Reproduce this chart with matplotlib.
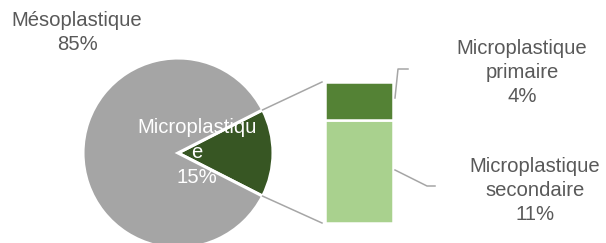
import matplotlib
matplotlib.use("Agg")
import matplotlib.pyplot as plt
import numpy as np

plt.rcParams['font.family'] = ['Liberation Sans', 'DejaVu Sans']

# Data
pie_labels = ["Microplastique", "Mésoplastique"]
pie_values = [15, 85]
bar_labels = ["Microplastique secondaire", "Microplastique primaire"]
bar_values = [11, 4]

W, H = 606, 243
fig = plt.figure(figsize=(W / 100, H / 100), dpi=100)

def box(l, t, r, b):
    return [l / W, 1 - b / H, (r - l) / W, (b - t) / H]

# Pie
cx, cy, R = 178, 153, 95
ax1 = fig.add_axes(box(cx - R, cy - R, cx + R, cy + R))
half = pie_values[0] / 100 * 360 / 2
ax1.pie(pie_values, colors=["#375623", "#A5A5A5"], startangle=-half,
        radius=1, wedgeprops=dict(edgecolor="white", linewidth=2.2))
ax1.set_xlim(-1, 1)
ax1.set_ylim(-1, 1)
ax1.set_aspect('equal')
ax1.axis('off')

# Bar
ax2 = fig.add_axes(box(325, 82, 393, 223))
ax2.bar([0], [bar_values[0]], width=1, bottom=0, color="#A9D18E",
        edgecolor="white", linewidth=1.8)
ax2.bar([0], [bar_values[1]], width=1, bottom=bar_values[0], color="#548235",
        edgecolor="white", linewidth=1.8)
ax2.set_xlim(-0.5, 0.5)
ax2.set_ylim(0, sum(bar_values))
ax2.axis('off')

# Overlay for text & lines (pixel coords)
ov = fig.add_axes([0, 0, 1, 1], zorder=5)
ov.set_xlim(0, W)
ov.set_ylim(H, 0)
ov.axis('off')
ov.patch.set_alpha(0)

lc = "#A6A6A6"
a = np.deg2rad(half)
x_top, y_top = cx + R * np.cos(a), cy - R * np.sin(a)
x_bot, y_bot = cx + R * np.cos(a), cy + R * np.sin(a)
ov.plot([x_top, 322], [y_top, 82], color=lc, lw=1.1)
ov.plot([x_bot, 322], [y_bot, 223], color=lc, lw=1.1)

# leader lines
ov.plot([395, 398, 408], [98, 69, 69], color=lc, lw=1.1)
ov.plot([395, 427, 435], [170, 186, 186], color=lc, lw=1.1)

fs = 14.6
tc = "#595959"
def lines(x, ys, texts, color):
    for y, t in zip(ys, texts):
        ov.text(x, y, t, ha='center', va='baseline', fontsize=fs, color=color)

lines(77, [26, 50], [pie_labels[1], f"{pie_values[1]}%"], tc)
lines(197, [133, 158, 183], ["Microplastiqu", "e", f"{pie_values[0]}%"], "white")
lines(522, [54, 78, 102], ["Microplastique", "primaire", f"{bar_values[1]}%"], tc)
lines(535, [172, 196, 220], ["Microplastique", "secondaire", f"{bar_values[0]}%"], tc)

fig.savefig("out.png", dpi=100)
